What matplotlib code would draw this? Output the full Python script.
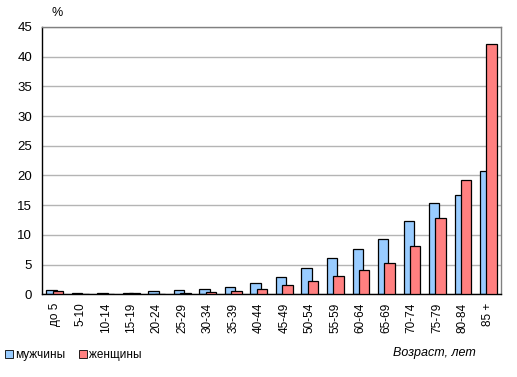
import numpy as np
import matplotlib.pyplot as plt
from matplotlib.patches import Patch

plt.rcParams['font.family'] = ['Liberation Sans', 'DejaVu Sans']

ages = ['до 5', '5-10', '10-14', '15-19', '20-24', '25-29', '30-34', '35-39', '40-44',
        '45-49', '50-54', '55-59', '60-64', '65-69', '70-74', '75-79', '80-84', '85 +']
men = [0.67, 0.15, 0.15, 0.3, 0.5, 0.67, 0.85, 1.2, 1.85,
       2.9, 4.4, 6.05, 7.6, 9.3, 12.3, 15.35, 16.7, 20.8]
women = [0.5, 0.1, 0.1, 0.15, 0.1, 0.3, 0.35, 0.5, 0.85,
         1.5, 2.2, 3.0, 4.1, 5.2, 8.1, 12.8, 19.2, 42.2]

blue = '#99CCFF'
red = '#FF8080'

fig = plt.figure(figsize=(5.17, 3.77), dpi=100)
ax = fig.add_axes([0.0812, 0.2194, 0.888, 0.709])

x = np.arange(len(ages))
ax.bar(x - 0.125, men, 0.4, color=blue, edgecolor='black', linewidth=0.9, zorder=2)
ax.bar(x + 0.125, women, 0.4, color=red, edgecolor='black', linewidth=0.9, zorder=3)

ax.set_xlim(-0.5, len(ages) - 0.5)
ax.set_ylim(0, 45)
ax.set_yticks(range(0, 46, 5))
ax.tick_params(axis='y', length=0, labelsize=9.5, pad=7)
ax.tick_params(axis='x', length=0, labelsize=8.5, pad=6)
ax.set_xticks(x)
ax.set_xticklabels(ages, rotation=90)
ax.grid(axis='y', color='#b4b4b4', linewidth=1, zorder=0)
ax.set_axisbelow(True)

ax.spines['left'].set_color('black')
ax.spines['bottom'].set_color('black')
ax.spines['top'].set_color('#808080')
ax.spines['right'].set_color('#808080')
for s in ax.spines.values():
    s.set_linewidth(1)

fig.text(0.1, 0.957, '%', fontsize=9)
fig.text(0.92, 0.055, 'Возраст, лет', fontsize=9, style='italic', ha='right')

handles = [Patch(facecolor=blue, edgecolor='black', linewidth=0.6, label='мужчины'),
           Patch(facecolor=red, edgecolor='black', linewidth=0.6, label='женщины')]
fig.legend(handles=handles, loc='lower left', bbox_to_anchor=(0.0, 0.03), ncol=2,
           frameon=False, fontsize=8.5, handlelength=0.7, handleheight=0.7,
           handletextpad=0.15, columnspacing=1.2, borderaxespad=0)

fig.savefig('out.png', dpi=100)
